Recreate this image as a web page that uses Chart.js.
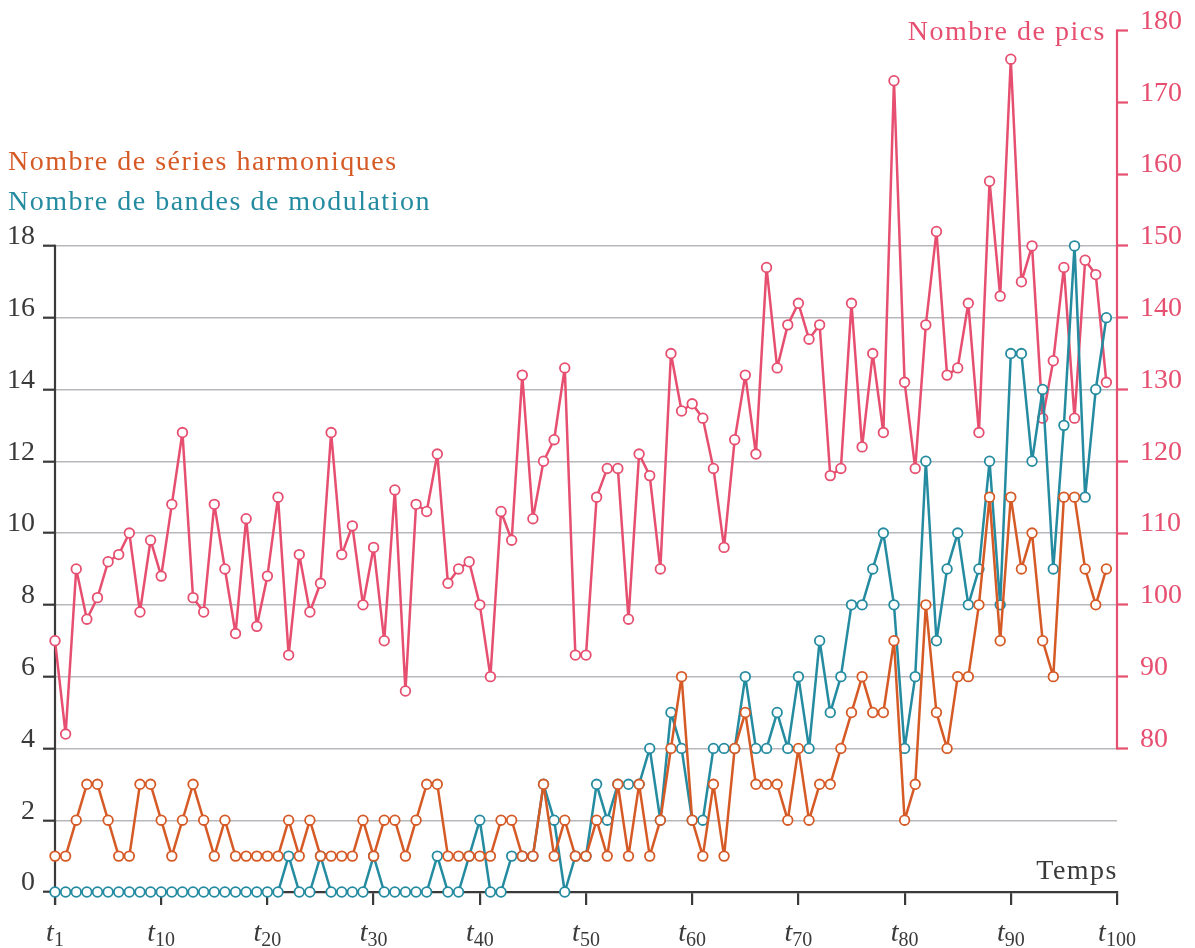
<!DOCTYPE html>
<html>
<head>
<meta charset="utf-8">
<script src="https://cdn.jsdelivr.net/npm/chart.js@4.4.1/dist/chart.umd.min.js"></script>
<style>
html,body{margin:0;padding:0;background:#fff;}
#wrap{position:relative;width:1195px;height:948px;}
</style>
</head>
<body>
<div id="wrap"><canvas id="c"></canvas></div>
<script>
// ---- data ----
const peaks = [95,82,105,98,101,106,107,110,99,109,
  104,114,124,101,99,114,105,96,112,97,
  104,115,93,107,99,103,124,107,111,100,
  108,95,116,88,114,113,121,103,105,106,
  100,90,113,109,132,112,120,123,133,93,
  93,115,119,119,98,121,118,105,135,127,
  128,126,119,108,123,132,121,147,133,139,
  142,137,139,118,119,142,122,135,124,173,
  131,119,139,152,132,133,142,124,159,143,
  176,145,150,126,134,147,126,148,146,131];
const harmonicSeries = [1,1,2,3,3,2,1,1,3,3,
  2,1,2,3,2,1,2,1,1,1,
  1,1,2,1,2,1,1,1,1,2,
  1,2,2,1,2,3,3,1,1,1,
  1,1,2,2,1,1,3,1,2,1,
  1,2,1,3,1,3,1,2,4,6,
  2,1,3,1,4,5,3,3,3,2,
  4,2,3,3,4,5,6,5,5,7,
  2,3,8,5,4,6,6,8,11,7,
  11,9,10,7,6,11,11,9,8,9];
const modulationBands = [0,0,0,0,0,0,0,0,0,0,
  0,0,0,0,0,0,0,0,0,0,
  0,0,1,0,0,1,0,0,0,0,
  1,0,0,0,0,0,1,0,0,1,
  2,0,0,1,1,1,3,2,0,1,
  1,3,2,3,3,3,4,2,5,4,
  2,2,4,4,4,6,4,4,5,4,
  6,4,7,5,6,8,8,9,10,8,
  4,6,12,7,9,10,8,9,12,8,
  15,15,12,14,9,13,18,11,14,16];
const xTickValues = [0,10,20,30,40,50,60,70,80,90,100];
const xTickSubs = ['1','10','20','30','40','50','60','70','80','90','100'];
const leftTicks = [0,2,4,6,8,10,12,14,16,18];
const rightTicks = [80,90,100,110,120,130,140,150,160,170,180];
const titlePeaks = 'Nombre de pics';
const titleHarm = 'Nombre de séries harmoniques';
const titleMod = 'Nombre de bandes de modulation';
const titleTime = 'Temps';

// ---- styles ----
const PINK = '#E64F70';
const ORANGE = '#D65A26';
const TEAL = '#248BA0';
const AXIS = '#3a3a3a';
const GRID = '#b8b8bc';
const SERIF = "'Liberation Serif', 'DejaVu Serif', serif";

const toPts = arr => arr.map((v, i) => ({x: i, y: v}));

function ds(label, arr, color, axis) {
  return {
    label, data: toPts(arr), yAxisID: axis,
    borderColor: color, backgroundColor: '#ffffff',
    borderWidth: 2.5, borderJoinStyle: 'round',
    pointRadius: 4.8, pointBorderWidth: 1.8,
    pointBackgroundColor: '#ffffff', pointBorderColor: color,
    tension: 0, clip: false
  };
}

const decor = {
  id: 'decor',
  beforeDatasetsDraw(chart) {
    const ctx = chart.ctx, y = chart.scales.y, y2 = chart.scales.y2, x = chart.scales.x;
    ctx.save();
    ctx.lineCap = 'butt';
    ctx.strokeStyle = AXIS; ctx.lineWidth = 2.2;
    const lx = x.getPixelForValue(0);
    ctx.beginPath();
    ctx.moveTo(lx, y.getPixelForValue(18) - 1.1);
    ctx.lineTo(lx, chart.chartArea.bottom + 13);
    ctx.stroke();
    ctx.strokeStyle = PINK; ctx.lineWidth = 2.2;
    const rx = x.getPixelForValue(100);
    ctx.beginPath();
    ctx.moveTo(rx, y2.getPixelForValue(180) - 1.1);
    ctx.lineTo(rx, y2.getPixelForValue(80) + 1.1);
    ctx.stroke();
    ctx.restore();
  },
  afterDraw(chart) {
    const ctx = chart.ctx, x = chart.scales.x;
    ctx.save();
    ctx.textBaseline = 'alphabetic';
    ctx.fillStyle = AXIS;
    xTickValues.forEach((v, k) => {
      const px = x.getPixelForValue(v);
      ctx.font = "italic 28px " + SERIF;
      const wt = ctx.measureText('t').width;
      ctx.font = "20px " + SERIF;
      const ws = ctx.measureText(xTickSubs[k]).width;
      const start = px - (wt + ws) / 2;
      ctx.font = "italic 28px " + SERIF;
      ctx.textAlign = 'left';
      ctx.fillText('t', start, 941);
      ctx.font = "20px " + SERIF;
      ctx.fillText(xTickSubs[k], start + wt, 946);
    });
    try { ctx.letterSpacing = '1.5px'; } catch (e) {}
    ctx.font = "28px " + SERIF;
    ctx.textAlign = 'right';
    ctx.fillStyle = PINK;
    ctx.fillText(titlePeaks, 1106, 40);
    ctx.fillStyle = AXIS;
    ctx.fillText(titleTime, 1118, 879);
    ctx.textAlign = 'left';
    ctx.fillStyle = ORANGE;
    ctx.fillText(titleHarm, 8, 170);
    ctx.fillStyle = TEAL;
    ctx.fillText(titleMod, 8, 210);
    ctx.restore();
  }
};

new Chart(document.getElementById('c'), {
  type: 'line',
  data: {
    datasets: [
      ds(titleHarm, harmonicSeries, ORANGE, 'y'),
      ds(titleMod, modulationBands, TEAL, 'y'),
      ds(titlePeaks, peaks, PINK, 'y2')
    ]
  },
  options: {
    responsive: true, maintainAspectRatio: false, animation: false,
    layout: {padding: {top: 30.5, left: 0, right: 0, bottom: 0}},
    plugins: {legend: {display: false}, tooltip: {enabled: false}},
    scales: {
      x: {
        type: 'linear', min: 0, max: 100,
        afterBuildTicks: s => { s.ticks = xTickValues.map(v => ({value: v})); },
        afterFit: s => { s.height = 56; },
        ticks: {display: false},
        grid: {drawOnChartArea: false, drawTicks: true, tickLength: 13, tickColor: AXIS, lineWidth: 2.2, color: AXIS},
        border: {display: true, color: AXIS, width: 2.2}
      },
      y: {
        position: 'left', min: 0, max: 24,
        afterBuildTicks: s => { s.ticks = leftTicks.map(v => ({value: v})); },
        afterFit: s => { s.width = 55; },
        ticks: {font: {family: SERIF, size: 28}, color: AXIS, padding: 8, labelOffset: -9},
        grid: {
          drawTicks: true, tickLength: 12, lineWidth: 1.4,
          color: c => (c.tick && c.tick.value === 0) ? 'rgba(0,0,0,0)' : GRID,
          tickColor: AXIS, tickWidth: 2.2
        },
        border: {display: false}
      },
      y2: {
        position: 'right', min: 60, max: 180,
        afterBuildTicks: s => { s.ticks = rightTicks.map(v => ({value: v})); },
        afterFit: s => { s.width = 78; },
        ticks: {font: {family: SERIF, size: 28}, color: PINK, padding: 12, labelOffset: -9},
        grid: {drawOnChartArea: false, drawTicks: true, tickLength: 11, tickColor: PINK, tickWidth: 2.2, color: PINK},
        border: {display: false}
      }
    }
  },
  plugins: [decor]
});
</script>
</body>
</html>
